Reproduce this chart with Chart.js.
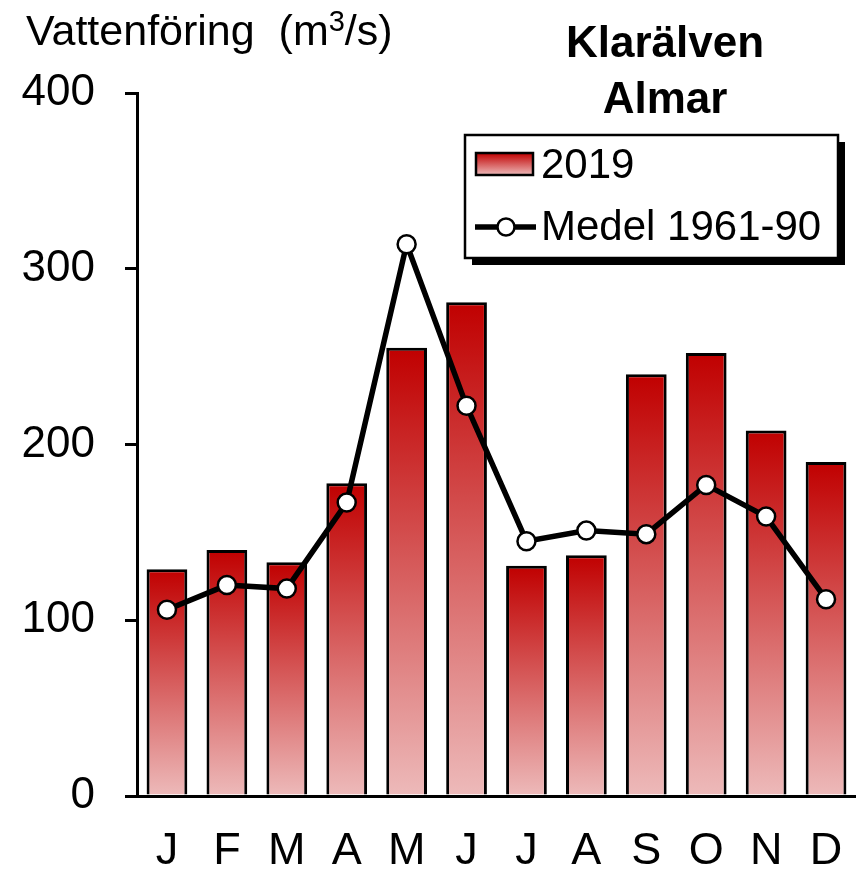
<!DOCTYPE html>
<html><head><meta charset="utf-8">
<script src="https://cdn.jsdelivr.net/npm/chart.js@4"></script>
<style>html,body{margin:0;padding:0;background:#fff;}#c{display:block;}</style>
</head><body>
<canvas id="c" width="856" height="872"></canvas>
<script>
const months = ['J','F','M','A','M','J','J','A','S','O','N','D'];
const flow2019 = [129, 140, 133, 178, 255, 281, 131, 137, 240, 252, 208, 190];
const mean6190 = [106, 120, 118, 167, 314, 222, 145, 151, 149, 177, 159, 112];
const yTicks = [0, 100, 200, 300, 400];
const titleLines = ['Klarälven', 'Almar'];
const yTitleParts = ['Vattenföring  (m', '3', '/s)'];
const legendLabels = ['2019', 'Medel 1961-90'];

const FONT = '"Liberation Sans", Arial, sans-serif';
const TOP = '#C00000', BOT = '#EDBABA';

function barGrad(ctx, top, bot) {
  const g = ctx.createLinearGradient(0, top, 0, bot);
  g.addColorStop(0, TOP);
  g.addColorStop(1, BOT);
  return g;
}

const overlay = {
  id: 'overlay',
  afterDraw(chart) {
    const ctx = chart.ctx;
    ctx.save();
    // y title with superscript
    ctx.fillStyle = '#000';
    ctx.textBaseline = 'alphabetic';
    ctx.textAlign = 'left';
    let x = 26;
    ctx.font = '43px ' + FONT;
    ctx.fillText(yTitleParts[0], x, 45);
    x += ctx.measureText(yTitleParts[0]).width;
    ctx.font = '29px ' + FONT;
    ctx.fillText(yTitleParts[1], x, 31);
    x += ctx.measureText(yTitleParts[1]).width;
    ctx.font = '43px ' + FONT;
    ctx.fillText(yTitleParts[2], x, 45);
    // title
    ctx.font = 'bold 44px ' + FONT;
    ctx.textAlign = 'center';
    ctx.fillText(titleLines[0], 665, 57);
    ctx.fillText(titleLines[1], 665, 113);
    // legend
    const lx = 465, ly = 135, lw = 373, lh = 123;
    ctx.fillStyle = '#000';
    ctx.fillRect(lx + 7, ly + 7, lw, lh);
    ctx.fillStyle = '#fff';
    ctx.fillRect(lx, ly, lw, lh);
    ctx.lineWidth = 2.5;
    ctx.strokeStyle = '#000';
    ctx.strokeRect(lx, ly, lw, lh);
    // bar swatch
    ctx.fillStyle = barGrad(ctx, 153, 175);
    ctx.fillRect(476, 153, 57, 22);
    ctx.lineWidth = 2.5;
    ctx.strokeRect(476, 153, 57, 22);
    // line swatch
    ctx.lineWidth = 5.5;
    ctx.beginPath(); ctx.moveTo(475, 227); ctx.lineTo(536, 227); ctx.stroke();
    ctx.beginPath(); ctx.arc(506, 227, 8.5, 0, Math.PI * 2);
    ctx.fillStyle = '#fff'; ctx.fill();
    ctx.lineWidth = 2.5; ctx.stroke();
    ctx.fillStyle = '#000';
    ctx.font = '42px ' + FONT;
    ctx.textAlign = 'left';
    ctx.textBaseline = 'alphabetic';
    ctx.fillText(legendLabels[0], 541, 178);
    ctx.fillText(legendLabels[1], 541, 240);
    ctx.restore();
  }
};

new Chart(document.getElementById('c'), {
  data: {
    labels: months,
    datasets: [
      {
        type: 'line', label: legendLabels[1], data: mean6190, order: 0,
        borderColor: '#000', borderWidth: 5.5, tension: 0,
        pointRadius: 9, pointHoverRadius: 9, pointBackgroundColor: '#fff',
        pointBorderColor: '#000', pointBorderWidth: 2.5
      },
      {
        type: 'bar', label: legendLabels[0], data: flow2019, order: 1,
        backgroundColor(c) {
          const ch = c.chart;
          if (!ch.chartArea) return TOP;
          const y = ch.scales.y;
          return barGrad(ch.ctx, y.getPixelForValue(c.raw), y.getPixelForValue(0));
        },
        borderColor: '#000', borderWidth: 3, borderSkipped: 'bottom',
        categoryPercentage: 1, barPercentage: 0.68
      }
    ]
  },
  options: {
    responsive: false, animation: false,
    layout: { autoPadding: false, padding: { top: 93, right: 0, left: 0, bottom: 0 } },
    plugins: { legend: { display: false }, title: { display: false }, tooltip: { enabled: false } },
    scales: {
      x: {
        offset: true,
        grid: { display: false, drawTicks: false },
        border: { display: true, color: '#000', width: 3 },
        ticks: { color: '#000', font: { family: FONT, size: 45 }, padding: 29, maxRotation: 0, autoSkip: false },
        afterFit(s) { s.height = 76; s.paddingLeft = 0; s.paddingRight = 0; }
      },
      y: {
        min: 0, max: 400,
        afterBuildTicks(s) { s.ticks = yTicks.map(v => ({ value: v })); },
        grid: { drawOnChartArea: false, drawTicks: true, tickLength: 12, color: '#000', lineWidth: 3 },
        border: { display: true, color: '#000', width: 3 },
        ticks: { color: '#000', font: { family: FONT, size: 44 }, padding: 30 },
        afterFit(s) { s.width = 137; s.paddingTop = 0; s.paddingBottom = 0; }
      }
    }
  },
  plugins: [overlay]
});
</script>
</body></html>
